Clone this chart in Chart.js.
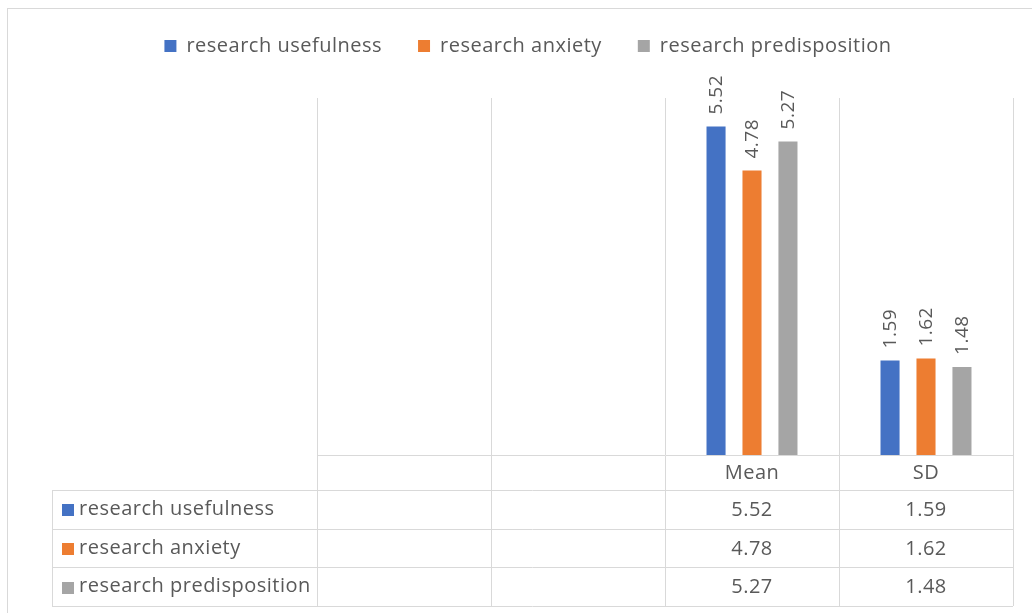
<!DOCTYPE html>
<html>
<head>
<meta charset="utf-8">
<script src="https://cdn.jsdelivr.net/npm/chart.js@4"></script>
<style>
  html, body { margin: 0; padding: 0; background: #ffffff; overflow: hidden; }
  #wrap { position: relative; width: 1032px; height: 613px; }
  #frame { position: absolute; left: 7px; top: 8px; width: 1100px; height: 700px; border: 1px solid #d9d9d9; box-sizing: border-box; }
  #chart { position: absolute; left: 0; top: 0; }
</style>
</head>
<body>
<div id="wrap">
  <div id="frame"></div>
  <canvas id="chart" width="1032" height="613"></canvas>
</div>
<script>
// Categories along the x axis (first two columns are blank)
const categories = ['', '', 'Mean', 'SD'];
const seriesNames = ['research usefulness', 'research anxiety', 'research predisposition'];
const usefulness = [null, null, 5.52, 1.59];
const anxiety = [null, null, 4.78, 1.62];
const predisposition = [null, null, 5.27, 1.48];
const yRange = [0, 6];

const colors = ['#4472C4', '#ED7D31', '#A5A5A5'];
const TEXT = '#595959';
const LINE = '#d9d9d9';
const FONT = "'Open Sans', 'DejaVu Sans', sans-serif";
const SPACING = '0.5px';

const TABLE_LEFT = 52;
const HEADER_H = 35;

// Slightly looser letter spacing for all canvas text
const textSpacing = {
  id: 'textSpacing',
  beforeUpdate(chart) { chart.ctx.letterSpacing = SPACING; },
  beforeDraw(chart) { chart.ctx.letterSpacing = SPACING; }
};

// Rotated value labels above each bar
const valueLabels = {
  id: 'valueLabels',
  afterDatasetsDraw(chart) {
    const ctx = chart.ctx;
    ctx.save();
    ctx.fillStyle = TEXT;
    ctx.font = "19px " + FONT;
    chart.data.datasets.forEach((ds, di) => {
      const meta = chart.getDatasetMeta(di);
      meta.data.forEach((el, i) => {
        const v = ds.data[i];
        if (v === null || v === undefined) return;
        ctx.save();
        ctx.translate(el.x, el.y - 12);
        ctx.rotate(-Math.PI / 2);
        ctx.textAlign = 'left';
        ctx.textBaseline = 'middle';
        ctx.fillText(v.toFixed(2), 0, 1);
        ctx.restore();
      });
    });
    ctx.restore();
  }
};

// Data table drawn beneath the x axis
const dataTable = {
  id: 'dataTable',
  afterDraw(chart) {
    const ctx = chart.ctx;
    const xs = chart.scales.x;
    const area = chart.chartArea;
    const top = area.bottom;
    const bottom = top + xs.options.grid.tickLength;
    const headBottom = top + HEADER_H;
    const n = chart.data.datasets.length;
    const rowH = (bottom - headBottom) / n;
    const right = area.right;

    ctx.save();
    ctx.strokeStyle = LINE;
    ctx.lineWidth = 1;
    ctx.beginPath();
    for (let r = 0; r <= n; r++) {
      const y = Math.round(headBottom + r * rowH) + 0.5;
      ctx.moveTo(TABLE_LEFT, y);
      ctx.lineTo(right, y);
    }
    ctx.moveTo(TABLE_LEFT + 0.5, headBottom);
    ctx.lineTo(TABLE_LEFT + 0.5, Math.round(bottom) + 1);
    ctx.stroke();

    ctx.fillStyle = TEXT;
    ctx.font = "20px " + FONT;
    ctx.textBaseline = 'middle';
    ctx.textAlign = 'center';
    chart.data.labels.forEach((lab, i) => {
      ctx.fillText(lab, xs.getPixelForTick(i), top + HEADER_H / 2 + 1);
    });

    chart.data.datasets.forEach((ds, di) => {
      const cy = headBottom + (di + 0.5) * rowH;
      ctx.fillStyle = ds.backgroundColor;
      ctx.fillRect(TABLE_LEFT + 10, Math.round(cy - 5), 12, 12);
      ctx.fillStyle = TEXT;
      ctx.textAlign = 'left';
      ctx.fillText(ds.label, TABLE_LEFT + 27, cy);
      ctx.textAlign = 'center';
      ds.data.forEach((v, i) => {
        if (v === null || v === undefined) return;
        ctx.fillText(v.toFixed(2), xs.getPixelForTick(i), cy + 1);
      });
    });
    ctx.restore();
  }
};

// Gives the legend extra room below it
const legendSpace = {
  id: 'legendSpace',
  beforeInit(chart) {
    const origFit = chart.legend.fit;
    chart.legend.fit = function () {
      origFit.bind(chart.legend)();
      this.height = 98;
    };
  }
};

const seriesData = [usefulness, anxiety, predisposition];

new Chart(document.getElementById('chart'), {
  type: 'bar',
  data: {
    labels: categories,
    datasets: seriesNames.map((name, i) => ({
      label: name,
      data: seriesData[i],
      backgroundColor: colors[i],
      borderWidth: 0,
      categoryPercentage: 0.62,
      barPercentage: 0.53
    }))
  },
  options: {
    responsive: false,
    animation: false,
    devicePixelRatio: 1,
    layout: { padding: { left: 43, right: 19, top: 0, bottom: 7 } },
    plugins: {
      legend: {
        position: 'top',
        labels: {
          boxWidth: 12,
          boxHeight: 12,
          padding: 36,
          color: TEXT,
          font: { family: FONT, size: 20 }
        }
      },
      tooltip: { enabled: false }
    },
    scales: {
      x: {
        grid: { offset: true, color: LINE, lineWidth: 1, drawTicks: true, tickLength: 151 },
        border: { display: true, color: LINE },
        ticks: { display: false },
        afterFit(scale) { scale.height = 151; }
      },
      y: {
        min: yRange[0],
        max: yRange[1],
        grid: { display: false },
        border: { display: false },
        ticks: { display: false },
        afterFit(scale) { scale.width = 274; }
      }
    }
  },
  plugins: [textSpacing, legendSpace, valueLabels, dataTable]
});
</script>
</body>
</html>
